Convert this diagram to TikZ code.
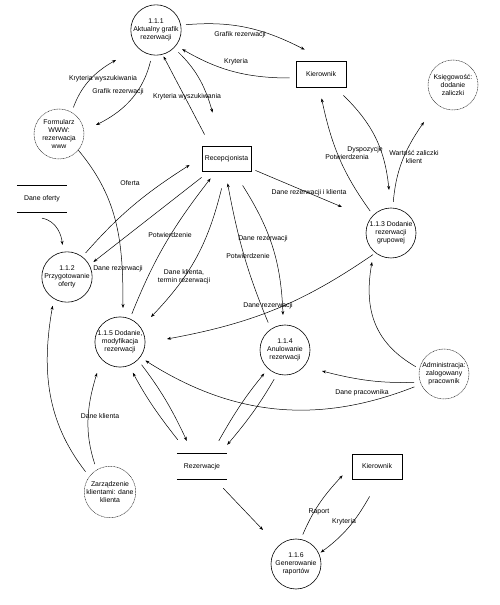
\documentclass[tikz,border=0pt]{standalone}
\usepackage{fontspec}
\setmainfont{Liberation Sans}
\usetikzlibrary{arrows.meta}
\begin{document}
\begin{tikzpicture}[x=1pt,y=1pt,
  every node/.style={font=\fontsize{6.9}{8}\selectfont},
  proc/.style={circle,draw,line width=0.6pt,minimum size=50pt,inner sep=0pt,align=center},
  ext/.style={circle,draw=black!80,line width=0.5pt,dash pattern=on 1pt off 0.6pt,minimum size=50pt,inner sep=0pt,align=center},
  ent/.style={rectangle,draw,line width=0.8pt,minimum width=49pt,minimum height=25pt,inner sep=0pt},
  store/.style={minimum width=50pt,minimum height=25pt,inner sep=0pt},
  storeline/.style={line width=0.8pt},
  flow/.style={line width=0.5pt,-{Stealth[length=4pt,width=3pt]}},
  lab/.style={inner sep=0pt,align=center}
]
\useasboundingbox (0,0) rectangle (499,605);

% nodes
\node[proc] (p111) at (156,575) {1.1.1\\Aktualny grafik\\rezerwacji};
\node[ext] (form) at (59,471) {Formularz\\WWW:\\rezerwacja\\www};
\node[ext] (ks) at (453,520) {Księgowość:\\dodanie\\zaliczki};
\node[proc] (p112) at (67,328) {1.1.2\\Przygotowanie\\oferty};
\node[proc] (p115) at (120,263) {1.1.5 Dodanie,\\modyfikacja\\rezerwacji};
\node[proc] (p113) at (391,372) {1.1.3 Dodanie\\rezerwacji\\grupowej};
\node[proc] (p114) at (285,255) {1.1.4\\Anulowanie\\rezerwacji};
\node[ext] (adm) at (444,231) {Administracja:\\zalogowany\\pracownik};
\node[ext] (zarz) at (110,113) {Zarządzenie\\klientami: dane\\klienta};
\node[proc] (p116) at (296,41) {1.1.6\\Generowanie\\raportów};
\node[ent] (recep) at (226.5,446.5) {Recepcjonista};
\node[ent,minimum width=50pt,minimum height=26pt] (kier1) at (321,531) {Kierownik};
\node[ent,minimum width=50pt] (kier2) at (377,138.5) {Kierownik};
\node[store,minimum height=26pt] (dof) at (42,406) {Dane oferty};
\node[store] (rez) at (202,138.5) {Rezerwacje};
\draw[storeline] (dof.north west) -- (dof.north east) (dof.south west) -- (dof.south east);
\draw[storeline] (rez.north west) -- (rez.north east) (rez.south west) -- (rez.south east);

% connectors
\draw[flow,shorten <=5pt] (p111.11) to[bend left=16] ([shift={(9,11)}]kier1.north west);
\draw[flow,shorten >=7pt] ([shift={(-6,-4)}]kier1.west) to[out=180,in=-30] (p111.-38);
\draw[flow,shorten <=5pt] (form.60) to[bend left=20] ([shift={(-40,-30)}]p111.center);
\draw[flow,shorten <=6pt] (p111.261) to[bend left=25] ([shift={(37,9)}]form.center);
\draw[flow,shorten >=2pt] ([shift={(3,11)}]recep.north west) -- (p111.-75);
\draw[flow,shorten <=6pt] (p111.-45) to[bend left=15] ([shift={(11,33)}]recep.north west);
\draw[flow] (form.-40) to[out=-50,in=90] ([shift={(3,34)}]p115.center);
\draw[flow,shorten <=5pt] (p112.53) to[bend left=8] ([shift={(-12,-6.5)}]recep.west);
\draw[flow,shorten >=5pt] ([shift={(0,-6)}]recep.south west) -- (p112.28);
\draw[flow,shorten >=7pt] ([shift={(0,-6)}]dof.south) to[out=-10,in=95] (p112.99);
\draw[flow,shorten <=5pt] (p115.67) to[bend left=8] ([shift={(9,-7)}]recep.south west);
\draw[flow] ([shift={(20,-17)}]recep.south west) to[bend left=15] ([shift={(31,25)}]p115.center);
\draw[flow,shorten <=7pt] (p114.124) to[bend left=6] ([shift={(26,-12)}]recep.south west);
\draw[flow] ([shift={(41,-14)}]recep.south west) to[bend left=15] ([shift={(-2,35)}]p114.center);
\draw[flow] ([shift={(4,1)}]recep.south east) -- ([shift={(-49,26)}]p113.center);
\draw[flow] ([shift={(-3,-8)}]kier1.south east) to[bend left=20] ([shift={(-2,43)}]p113.center);
\draw[flow,shorten <=5pt] (p113.135) to[bend left=12] ([shift={(26,-11)}]kier1.south west);
\draw[flow,shorten <=6pt] (p113.86) to[bend left=15] ([shift={(-29,-37)}]ks.center);
\draw[flow,shorten <=3pt] (p113.232) to[bend left=12] ([shift={(47,3)}]p115.center);
\draw[flow,shorten <=4pt] (adm.168) to[out=150,in=-100,looseness=1.1] ([shift={(-19,-29)}]p113.center);
\draw[flow,shorten <=6pt] (adm.199) to[bend left=8] ([shift={(37,-21)}]p114.center);
\draw[flow,shorten <=7pt,shorten >=6pt] (adm.204) to[bend left=27] (p115.-37);
\draw[flow,shorten >=8pt] ([shift={(1,14)}]rez.north west) to[bend left=5] (p115.-69);
\draw[flow,shorten <=6pt] (p115.-45) to[bend left=6] ([shift={(10,13)}]rez.north west);
\draw[flow,shorten >=6pt] ([shift={(42,13)}]rez.north west) to[bend left=5] (p114.-132);
\draw[flow,shorten <=6pt] (p114.-108) to[bend left=5] ([shift={(0,9)}]rez.north east);
\draw[flow,shorten <=6pt] (zarz.121) to[out=108,in=-107] ([shift={(-23,-31)}]p115.center);
\draw[flow,shorten <=6pt,shorten >=7pt] (zarz.143) to[out=128,in=-100] (p112.-121);
\draw[flow] ([shift={(-4,-9)}]rez.south east) -- ([shift={(-33,34)}]p116.center);
\draw[flow,shorten <=5pt] (p116.79) to[bend left=10] ([shift={(-9,4)}]kier2.south west);
\draw[flow,shorten >=2pt] ([shift={(18,-17)}]kier2.south west) to[bend left=12] (p116.24);

% labels
\node[lab] (l1) at (240,570) {Grafik rezerwacji};
\node[lab] (l2) at (236,543) {Kryteria};
\node[lab] (l3) at (103,526) {Kryteria wyszukiwania};
\node[lab] (l4) at (118,513) {Grafik rezerwacji};
\node[lab] (l5) at (187,508) {Kryteria wyszukiwania};
\node[lab] (l6) at (118,336) {Dane rezerwacji};
\node[lab] (l7) at (130,422) {Oferta};
\node[lab] (l8) at (170,370) {Potwierdzenie};
\node[lab] (l9) at (184,328) {Dane klienta,\\termin rezerwacji};
\node[lab] (l10) at (248,349) {Potwierdzenie};
\node[lab] (l11) at (263,366) {Dane rezerwacji};
\node[lab] (l12) at (309,412) {Dane rezerwacji i klienta};
\node[lab] (l13) at (365,455) {Dyspozycje};
\node[lab] (l14) at (347,448) {Potwierdzenia};
\node[lab] (l15) at (414,448.5) {Wartość zaliczki\\klient};
\node[lab] (l16) at (268,299) {Dane rezerwacji};
\node[lab] (l17) at (362,212) {Dane pracownika};
\node[lab] (l18) at (100,189) {Dane klienta};
\node[lab] (l19) at (319,93) {Raport};
\node[lab] (l20) at (344,83) {Kryteria};
\end{tikzpicture}
\end{document}
